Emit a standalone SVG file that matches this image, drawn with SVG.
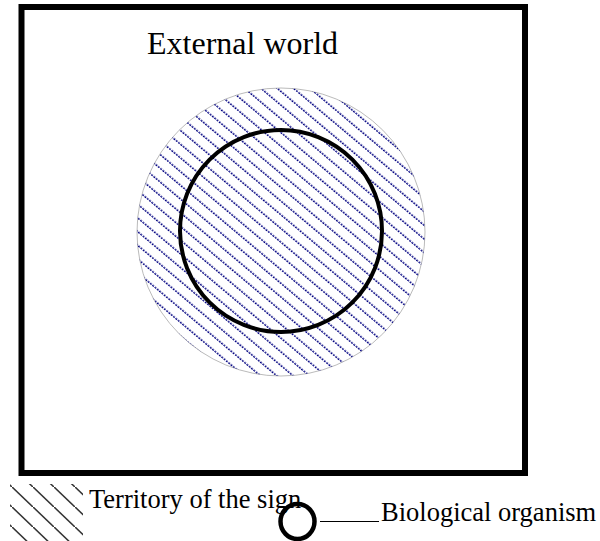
<svg xmlns="http://www.w3.org/2000/svg" width="600" height="541" viewBox="0 0 600 541">
  <style>
    .lbl { font-family: "Liberation Serif", "Times New Roman", serif; fill: #000; }
    .frame { fill: none; stroke: #000; stroke-width: 6; }
  </style>
  <defs>
    <pattern id="signHatch" patternUnits="userSpaceOnUse" width="24" height="10.5" patternTransform="rotate(40)">
      <line x1="0" y1="5" x2="24" y2="5" stroke="#000080" stroke-width="1.6" stroke-dasharray="2 1"/>
    </pattern>
    <pattern id="legendHatch" patternUnits="userSpaceOnUse" x="12" y="487" width="21" height="20">
      <line x1="-1" y1="-0.95" x2="22" y2="20.95" stroke="#333" stroke-width="1.6"/>
    </pattern>
    <clipPath id="legendClip">
      <rect x="10" y="484" width="73" height="57"/>
    </clipPath>
  </defs>

  <g id="external-world">
    <rect class="frame" x="21.5" y="7" width="503.5" height="466"/>
    <text class="lbl" x="147" y="54" font-size="32">External world</text>
  </g>

  <g id="territory-of-sign">
    <circle cx="281" cy="232" r="144" fill="#fff" stroke="#bbb" stroke-width="1"/>
    <circle cx="281" cy="232" r="144" fill="url(#signHatch)"/>
  </g>

  <g id="biological-organism">
    <circle cx="281" cy="231" r="101" fill="none" stroke="#000" stroke-width="4"/>
  </g>

  <g id="legend">
    <g id="legend-territory">
      <rect x="10" y="484" width="73" height="57" fill="url(#legendHatch)" clip-path="url(#legendClip)"/>
      <text class="lbl" x="89" y="508" font-size="26.5">Territory of the sign</text>
    </g>
    <g id="legend-organism">
      <ellipse cx="297.5" cy="521.5" rx="17" ry="17.5" fill="none" stroke="#000" stroke-width="4.5"/>
      <text class="lbl" x="381" y="521" font-size="26.5">Biological organism</text>
    </g>
  </g>

  <g id="connectors">
    <line x1="320" y1="521.5" x2="379" y2="521.5" stroke="#000" stroke-width="1.2"/>
  </g>
</svg>
